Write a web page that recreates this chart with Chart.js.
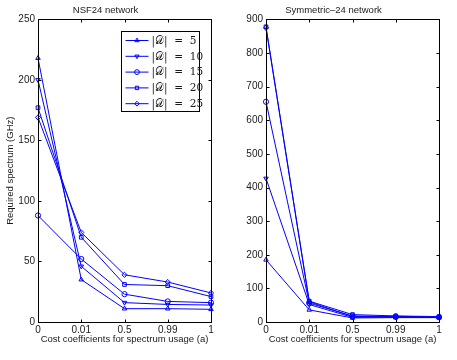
<!DOCTYPE html>
<html>
<head>
<meta charset="utf-8">
<script src="https://cdn.jsdelivr.net/npm/chart.js@4/dist/chart.umd.min.js"></script>
<style>
  body { margin: 0; background: #fff; }
  .box { position: absolute; top: 0; height: 360px; }
</style>
</head>
<body>
<div class="box" style="left:0;width:228px"><canvas id="nsf24"></canvas></div>
<div class="box" style="left:228px;width:229px"><canvas id="sym24"></canvas></div>
<script>
const costLabels = ["0", "0.01", "0.5", "0.99", "1"];
const legendLabels = ["|\u{1D49F}|  =  5", "|\u{1D49F}|  =  10", "|\u{1D49F}|  =  15", "|\u{1D49F}|  =  20", "|\u{1D49F}|  =  25"];

// NSF24 network
const nsfD5 = [218, 35, 11, 11, 10.5];
const nsfD10 = [200, 46, 16, 14.5, 14];
const nsfD15 = [88, 52, 23, 17, 16];
const nsfD20 = [177, 70, 31, 30, 21];
const nsfD25 = [169, 74, 39, 33, 24];
const nsfTicks = [0, 50, 100, 150, 200, 250];

// Symmetric-24 network
const symD5 = [185, 36, 12, 13, 13];
const symD10 = [427, 52, 14, 14, 14];
const symD15 = [655, 56, 18, 16, 14];
const symD20 = [878, 62, 22, 18, 16];
const symD25 = [875, 60, 16, 17, 15];
const symTicks = [0, 100, 200, 300, 400, 500, 600, 700, 800, 900];

const markers = [
  { pointStyle: "triangle", rotation: 0 },
  { pointStyle: "triangle", rotation: 180 },
  { pointStyle: "circle", rotation: 0 },
  { pointStyle: "rect", rotation: 0 },
  { pointStyle: "rectRot", rotation: 0 },
];

const fontFamily = "'Liberation Sans', Arial, sans-serif";
const textColor = "#1a1a1a";

function makeDatasets(series) {
  return series.map((values, i) => ({
    label: legendLabels[i],
    data: values,
    borderColor: "#0000ff",
    backgroundColor: "rgba(0,0,0,0)",
    borderWidth: 1,
    pointStyle: markers[i].pointStyle,
    pointRotation: markers[i].rotation,
    pointRadius: 2.6,
    pointBorderWidth: 1,
    tension: 0,
  }));
}

// MATLAB-like box with inward ticks on every side
const boxAxes = {
  id: "boxAxes",
  afterDraw(chart) {
    const ctx = chart.ctx;
    const a = chart.chartArea;
    const l = Math.round(a.left) + 0.5, r = Math.round(a.right) + 0.5;
    const t = Math.round(a.top) + 0.5, b = Math.round(a.bottom) + 0.5;
    ctx.save();
    ctx.strokeStyle = "#000";
    ctx.lineWidth = 1;
    ctx.strokeRect(l, t, r - l, b - t);
    ctx.beginPath();
    chart.scales.x.ticks.forEach((tk, i) => {
      const x = Math.round(chart.scales.x.getPixelForTick(i)) + 0.5;
      ctx.moveTo(x, b); ctx.lineTo(x, b - 3);
      ctx.moveTo(x, t); ctx.lineTo(x, t + 3);
    });
    chart.scales.y.ticks.forEach((tk) => {
      const y = Math.round(chart.scales.y.getPixelForValue(tk.value)) + 0.5;
      ctx.moveTo(l, y); ctx.lineTo(l + 3, y);
      ctx.moveTo(r, y); ctx.lineTo(r - 3, y);
    });
    ctx.stroke();
    ctx.restore();
  },
};

// boxed legend in the upper right of the plot area
const boxLegend = {
  id: "boxLegend",
  afterDraw(chart, args, opts) {
    if (!opts.show) return;
    const ctx = chart.ctx;
    const a = chart.chartArea;
    const w = 78, h = 80, rowH = 15.8;
    const x0 = Math.round(a.right - 12 - w) + 0.5;
    const y0 = Math.round(a.top + 12) + 0.5;
    ctx.save();
    ctx.fillStyle = "#fff";
    ctx.fillRect(x0, y0, w, h);
    ctx.strokeStyle = "#000";
    ctx.lineWidth = 1;
    ctx.strokeRect(x0, y0, w, h);
    chart.data.datasets.forEach((ds, i) => {
      const y = y0 + 9 + i * rowH;
      ctx.strokeStyle = ds.borderColor;
      ctx.beginPath();
      ctx.moveTo(x0 + 4, y); ctx.lineTo(x0 + 27, y);
      ctx.stroke();
      ctx.fillStyle = "rgba(0,0,0,0)";
      Chart.helpers.drawPoint(ctx, {
        pointStyle: ds.pointStyle, rotation: ds.pointRotation,
        radius: 2.4, borderWidth: 1,
      }, x0 + 15.5, y);
      ctx.fillStyle = textColor;
      ctx.font = "10.5px 'DejaVu Serif', 'Liberation Serif', serif";
      ctx.textBaseline = "middle";
      ctx.fillText(ds.label, x0 + 30, y + 0.5);
    });
    ctx.restore();
  },
};

function makeChart(id, title, series, yMax, yStep, yTitle, rightPad, showLegend) {
  return new Chart(document.getElementById(id).getContext("2d"), {
    type: "line",
    data: { labels: costLabels, datasets: makeDatasets(series) },
    options: {
      responsive: true,
      maintainAspectRatio: false,
      animation: false,
      layout: { padding: { top: 0, right: rightPad, bottom: 0, left: 0 } },
      plugins: {
        legend: { display: false },
        tooltip: { enabled: false },
        title: {
          display: true,
          text: title,
          color: textColor,
          font: { family: fontFamily, size: 9.5, weight: "normal" },
          padding: { top: 5, bottom: 3 },
        },
        boxLegend: { show: showLegend },
      },
      scales: {
        x: {
          type: "category",
          offset: false,
          grid: { display: false, drawTicks: false },
          border: { display: false },
          ticks: { color: textColor, font: { family: fontFamily, size: 10 }, padding: 2, maxRotation: 0 },
          title: {
            display: true,
            text: "Cost coefficients for spectrum usage (a)",
            color: textColor,
            font: { family: fontFamily, size: 9.5 },
            padding: { top: 0, bottom: 15 },
          },
          afterFit: (s) => { s.height = 38; },
        },
        y: {
          min: 0,
          max: yMax,
          grid: { display: false, drawTicks: false },
          border: { display: false },
          ticks: { stepSize: yStep, color: textColor, font: { family: fontFamily, size: 10 }, padding: 3 },
          title: {
            display: yTitle !== "",
            text: yTitle,
            color: textColor,
            font: { family: fontFamily, size: 9.5 },
            padding: { top: 5, bottom: 0 },
          },
          afterFit: (s) => { s.width = 38; },
        },
      },
    },
    plugins: [boxAxes, boxLegend],
  });
}

makeChart("nsf24", "NSF24 network", [nsfD5, nsfD10, nsfD15, nsfD20, nsfD25],
  nsfTicks[nsfTicks.length - 1], nsfTicks[1] - nsfTicks[0], "Required spectrum (GHz)", 17, true);
makeChart("sym24", "Symmetric\u201324 network", [symD5, symD10, symD15, symD20, symD25],
  symTicks[symTicks.length - 1], symTicks[1] - symTicks[0], "", 18, false);
</script>
</body>
</html>
